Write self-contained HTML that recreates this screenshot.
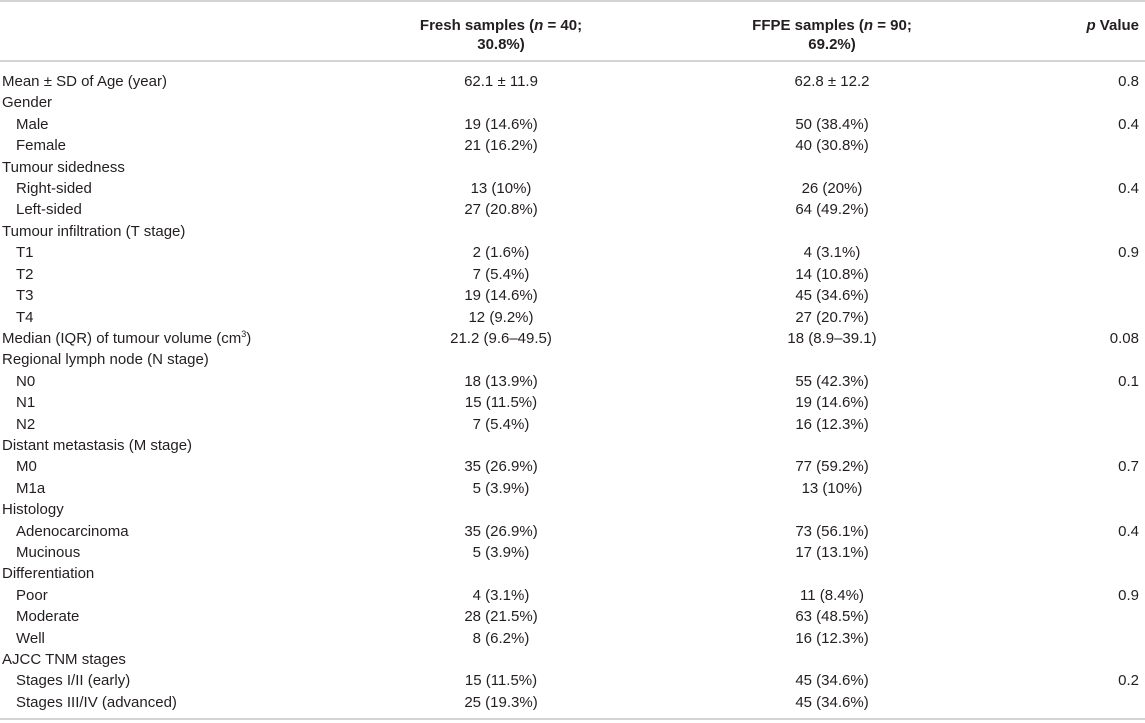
<!DOCTYPE html>
<html><head><meta charset="utf-8"><style>
body{margin:0;background:#fff;width:1145px;height:723px;overflow:hidden;font-family:"Liberation Sans",sans-serif;color:#231f20;font-size:15px}
.line{position:absolute;left:0;width:1145px;height:2px;background:#d4d4d4}
.r{position:absolute;left:0;width:1145px;height:21.4px;line-height:21.4px}
.r span{position:absolute;white-space:nowrap}
.l{left:2px}.l.i{left:16px}
.c1{left:390px;width:222px;text-align:center}
.c2{left:720px;width:224px;text-align:center}
.c3{right:6px;text-align:right}
.h{position:absolute;font-weight:bold;text-align:center;line-height:19px;white-space:nowrap}
</style></head><body>
<div class="line" style="top:0"></div>
<div class="h" style="left:390px;width:222px;top:16px">Fresh samples (<i>n</i> = 40;<br>30.8%)</div>
<div class="h" style="left:720px;width:224px;top:16px">FFPE samples (<i>n</i> = 90;<br>69.2%)</div>
<div class="h" style="right:6px;top:16px"><i>p</i> Value</div>
<div class="line" style="top:60px"></div>
<div id="rows"></div>
<div class="line" style="top:718px"></div>
<script>
const rows=[
["Mean ± SD of Age (year)","62.1 ± 11.9","62.8 ± 12.2","0.8",0],
["Gender","","","",0],
["Male","19 (14.6%)","50 (38.4%)","0.4",1],
["Female","21 (16.2%)","40 (30.8%)","",1],
["Tumour sidedness","","","",0],
["Right-sided","13 (10%)","26 (20%)","0.4",1],
["Left-sided","27 (20.8%)","64 (49.2%)","",1],
["Tumour infiltration (T stage)","","","",0],
["T1","2 (1.6%)","4 (3.1%)","0.9",1],
["T2","7 (5.4%)","14 (10.8%)","",1],
["T3","19 (14.6%)","45 (34.6%)","",1],
["T4","12 (9.2%)","27 (20.7%)","",1],
["Median (IQR) of tumour volume (cm<sup style='font-size:9px;line-height:0'>3</sup>)","21.2 (9.6–49.5)","18 (8.9–39.1)","0.08",0],
["Regional lymph node (N stage)","","","",0],
["N0","18 (13.9%)","55 (42.3%)","0.1",1],
["N1","15 (11.5%)","19 (14.6%)","",1],
["N2","7 (5.4%)","16 (12.3%)","",1],
["Distant metastasis (M stage)","","","",0],
["M0","35 (26.9%)","77 (59.2%)","0.7",1],
["M1a","5 (3.9%)","13 (10%)","",1],
["Histology","","","",0],
["Adenocarcinoma","35 (26.9%)","73 (56.1%)","0.4",1],
["Mucinous","5 (3.9%)","17 (13.1%)","",1],
["Differentiation","","","",0],
["Poor","4 (3.1%)","11 (8.4%)","0.9",1],
["Moderate","28 (21.5%)","63 (48.5%)","",1],
["Well","8 (6.2%)","16 (12.3%)","",1],
["AJCC TNM stages","","","",0],
["Stages I/II (early)","15 (11.5%)","45 (34.6%)","0.2",1],
["Stages III/IV (advanced)","25 (19.3%)","45 (34.6%)","",1]];
const host=document.getElementById('rows');
rows.forEach((r,k)=>{
const d=document.createElement('div');
d.className='r';d.style.top=(71+k*21.41)+'px';


d.innerHTML=`<span class="l${r[4]?' i':''}">${r[0]}</span><span class="c1">${r[1]}</span><span class="c2">${r[2]}</span><span class="c3">${r[3]}</span>`;
host.appendChild(d);
});
</script>
</body></html>
